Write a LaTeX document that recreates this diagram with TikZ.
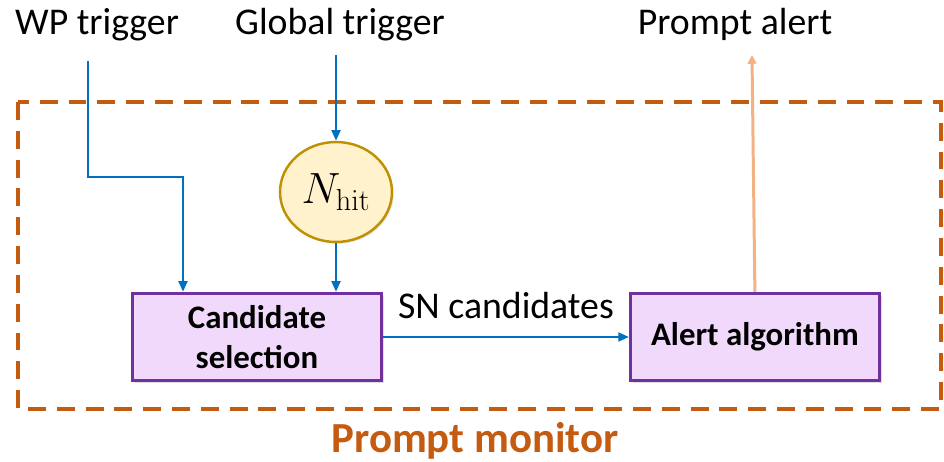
\documentclass[tikz,border=0pt]{standalone}
\usepackage[no-math]{fontspec}
\setmainfont{Carlito}
\usepackage{tikz}
\usetikzlibrary{positioning, arrows.meta, calc, shapes.geometric, shadows}
\definecolor{monitororange}{RGB}{197,90,17}
\definecolor{alertorange}{RGB}{244,177,131}
\definecolor{feedblue}{RGB}{0,112,192}
\definecolor{boxpurple}{RGB}{112,48,160}
\definecolor{boxlilac}{RGB}{240,217,250}
\definecolor{hitgold}{RGB}{191,144,0}
\definecolor{hitcream}{RGB}{255,242,204}

\begin{document}
\begin{tikzpicture}[x=0.02cm, y=-0.02cm,
			stage/.style={rectangle, draw=boxpurple, fill=boxlilac, line width=1.7pt, minimum width=4.98cm, minimum height=1.75cm, inner sep=0pt, align=center, font=\bfseries\fontsize{18.7}{22.5}\selectfont, drop shadow={opacity=0.25, shadow xshift=1.5pt, shadow yshift=-1.5pt}},
			counter/.style={ellipse, draw=hitgold, fill=hitcream, line width=1.4pt, minimum width=2.24cm, minimum height=2cm, inner sep=0pt, font=\fontsize{24}{27}\selectfont, drop shadow={opacity=0.2, shadow xshift=1pt, shadow yshift=-1pt}},
			signal/.style={anchor=base, inner sep=0pt, font=\fontsize{21.5}{24}\selectfont},
			frame/.style={draw=monitororange, line width=2.3pt, dash pattern=on 10.2pt off 6.2pt},
			feed/.style={-{Triangle[length=6pt, width=5pt]}, draw=feedblue, line width=1.3pt},
			alertarrow/.style={-{Triangle[length=5pt, width=5pt]}, draw=alertorange, line width=1.7pt},
			]
			\useasboundingbox (0,0) rectangle (944,462);
			% prompt monitor frame
			\draw[frame] (18,102) rectangle (941,409);
			\node[anchor=base, inner sep=0pt, text=monitororange, font=\bfseries\fontsize{24.4}{28}\selectfont] (monitortitle) at (475,453) {Prompt monitor};
			% inputs and output
			\node[signal] (wptrig) at (97,35) {WP trigger};
			\node[signal] (globtrig) at (340,35) {Global trigger};
			\node[signal] (promptalert) at (735,35) {Prompt alert};
			\coordinate (wpin) at (88,61);
			\coordinate (wpbend) at (183,177);
			\coordinate (globin) at (336,55);
			\coordinate (alertout) at (752,55);
			% blocks
			\node[counter] (nhit) at (336,192) {$N_{\mathrm{hit}}$};
			\node[stage] (cand) at (257,337) {Candidate\\selection};
			\node[stage, right=4.92cm of cand] (alert) {Alert algorithm};
			% connections
			\draw[feed] (wpin) |- (wpbend) -- (wpbend |- cand.north);
			\draw[feed] (globin) -- (nhit.north);
			\draw[feed] (nhit.south) -- (nhit.south |- cand.north);
			\draw[feed] (cand) -- node[above=9.5pt, inner sep=0pt, font=\fontsize{21.5}{24}\selectfont] (snlabel) {SN candidates} (alert);
			\draw[alertarrow] (alert.north) -- (alertout);
		\end{tikzpicture}
\end{document}
